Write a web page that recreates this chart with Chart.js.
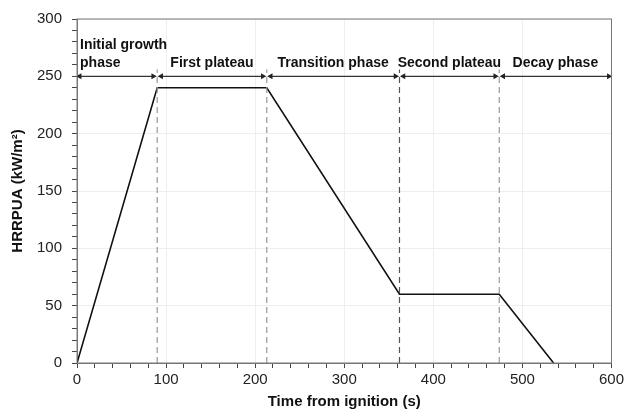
<!DOCTYPE html>
<html>
<head>
<meta charset="utf-8">
<script src="https://cdn.jsdelivr.net/npm/chart.js@4.4.0/dist/chart.umd.min.js"></script>
<style>
  html, body { margin: 0; padding: 0; background: #fff; }
  #wrap { width: 627px; height: 419px; }
</style>
</head>
<body>
<div id="wrap"><canvas id="chart"></canvas></div>
<script>
// HRR curve (time s, HRRPUA kW/m2)
const curveTime = [0, 90, 213, 362, 474, 535];
const curveHrr = [0, 240, 240, 60, 60, 0];

// phase boundaries and labels
const phaseEdges = [0, 90, 213, 362, 474, 600];
const phaseNames = [["Initial growth", "phase"], ["First plateau"], ["Transition phase"], ["Second plateau"], ["Decay phase"]];
const arrowLevel = 250;
const dividerTop = 256;

const xTicks = [0, 100, 200, 300, 400, 500, 600];
const yTicks = [0, 50, 100, 150, 200, 250, 300];

const font = "'Liberation Sans', Arial, sans-serif";

const datasets = [];

// vertical dashed dividers
phaseEdges.slice(1, -1).forEach((x, i) => {
  datasets.push({
    data: [{ x: x, y: 0 }, { x: x, y: dividerTop }],
    borderColor: i === 2 ? '#555' : '#999',
    borderWidth: 1.2,
    borderDash: [6, 4],
    pointRadius: 0
  });
});

// double headed arrows
for (let i = 0; i < phaseEdges.length - 1; i++) {
  const a = phaseEdges[i] + (i === 0 ? 3 : 4.5);
  const b = phaseEdges[i + 1] - (i === phaseEdges.length - 2 ? 3 : 4.5);
  datasets.push({
    data: [{ x: a, y: arrowLevel }, { x: b, y: arrowLevel }],
    borderColor: '#333',
    backgroundColor: '#222',
    borderWidth: 1.2,
    pointStyle: 'triangle',
    pointRadius: 3.5,
    pointRotation: [-90, 90],
    pointBorderWidth: 0
  });
}

// main curve
datasets.push({
  data: curveTime.map((t, i) => ({ x: t, y: curveHrr[i] })),
  borderColor: '#111',
  borderWidth: 1.6,
  pointRadius: 0
});

const phaseLabels = {
  id: 'phaseLabels',
  afterDatasetsDraw(chart) {
    const { ctx, scales: { x, y }, chartArea } = chart;
    ctx.save();
    ctx.font = 'bold 14px ' + font;
    ctx.fillStyle = '#111';
    ctx.textBaseline = 'alphabetic';
    phaseNames.forEach((lines, i) => {
      const left = x.getPixelForValue(phaseEdges[i]);
      const right = x.getPixelForValue(phaseEdges[i + 1]);
      const base = y.getPixelForValue(arrowLevel) - 9;
      if (i === 0) {
        ctx.textAlign = 'left';
        ctx.fillText(lines[0], left + 3, base - 18);
        ctx.fillText(lines[1], left + 3, base);
      } else {
        ctx.textAlign = 'center';
        ctx.fillText(lines[0], (left + right) / 2, base);
      }
    });
    // frame
    ctx.strokeStyle = '#777';
    ctx.lineWidth = 1;
    ctx.strokeRect(chartArea.left, chartArea.top, chartArea.right - chartArea.left, chartArea.bottom - chartArea.top);
    ctx.restore();
  }
};

new Chart(document.getElementById('chart'), {
  type: 'line',
  data: { datasets },
  options: {
    responsive: true,
    maintainAspectRatio: false,
    animation: false,
    layout: { padding: { top: 11, right: 13, left: 5, bottom: 4 } },
    plugins: { legend: { display: false }, tooltip: { enabled: false } },
    scales: {
      x: {
        type: 'linear',
        min: 0, max: 600,
        ticks: {
          stepSize: 20,
          autoSkip: false,
          maxRotation: 0,
          color: '#222',
          font: { family: font, size: 15 },
          callback: v => xTicks.includes(v) ? v : ''
        },
        grid: {
          color: c => c.tick && c.tick.value % 100 === 0 ? '#eeeeee' : 'rgba(0,0,0,0)',
          tickColor: '#444',
          tickLength: 5
        },
        border: { color: '#777' },
        title: { display: true, text: 'Time from ignition (s)', color: '#111', font: { family: font, size: 15, weight: 'bold' }, padding: { top: 1 } }
      },
      y: {
        min: 0, max: 300,
        ticks: {
          stepSize: 10,
          autoSkip: false,
          padding: 10,
          color: '#222',
          font: { family: font, size: 15 },
          callback: v => yTicks.includes(v) ? v : ''
        },
        grid: {
          color: c => c.tick && c.tick.value % 50 === 0 ? '#eeeeee' : 'rgba(0,0,0,0)',
          tickColor: '#444',
          tickLength: 5
        },
        border: { color: '#777' },
        title: { display: true, text: 'HRRPUA (kW/m²)', color: '#111', font: { family: font, size: 15, weight: 'bold' }, padding: { bottom: 0 } }
      }
    }
  },
  plugins: [phaseLabels]
});
</script>
</body>
</html>
